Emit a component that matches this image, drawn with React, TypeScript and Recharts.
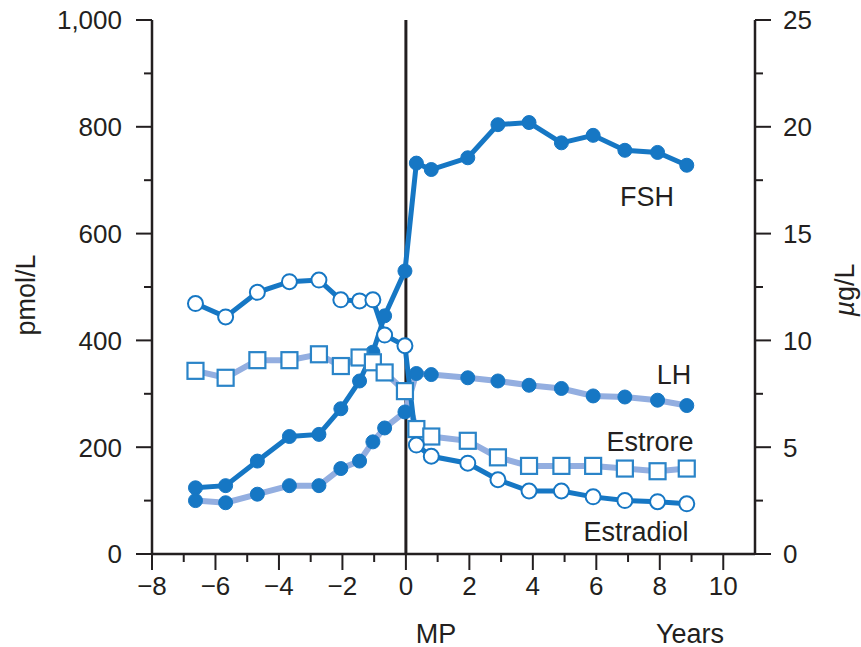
import React from 'react'
import { LineChart, Line, XAxis, YAxis, ReferenceLine } from 'recharts'

// years relative to the menopause (MP)
const years = [
  -6.63, -5.68, -4.68, -3.67, -2.74, -2.05, -1.46, -1.04, -0.67, -0.03,
  0.33, 0.8, 1.95, 2.9, 3.88, 4.9, 5.9, 6.9, 7.93, 8.85,
]
// µg/L, right axis
const fsh = [
  3.1, 3.2, 4.35, 5.5, 5.6, 6.8, 8.1, 9.45, 11.15, 13.25,
  18.3, 18.0, 18.55, 20.1, 20.2, 19.25, 19.6, 18.9, 18.8, 18.2,
]
const lh = [
  2.5, 2.4, 2.8, 3.2, 3.2, 4.0, 4.35, 5.25, 5.9, 6.65,
  8.45, 8.4, 8.25, 8.1, 7.9, 7.75, 7.4, 7.35, 7.2, 6.95,
]
// pmol/L, left axis
const estrone = [
  343, 330, 363, 363, 374, 352, 368, 359, 340, 305,
  234, 220, 212, 181, 165, 165, 165, 160, 155, 160,
]
const estradiol = [
  469, 444, 490, 510, 513, 476, 474, 476, 410, 390,
  204, 183, 170, 139, 118, 118, 107, 100, 98, 94,
]

const xTicks = [-8, -7, -6, -5, -4, -3, -2, -1, 0, 1, 2, 3, 4, 5, 6, 7, 8, 9, 10]
const leftTicks = [0, 100, 200, 300, 400, 500, 600, 700, 800, 900, 1000]
const rightTicks = [0, 2.5, 5, 7.5, 10, 12.5, 15, 17.5, 20, 22.5, 25]

const data = years.map((year, i) => ({
  year,
  fsh: fsh[i],
  lh: lh[i],
  estrone: estrone[i],
  estradiol: estradiol[i],
}))

const ink = '#231f20'
const blue = '#1677c4'
const light = '#93aee0'
const font = '"Liberation Sans", Arial, Helvetica, sans-serif'

const LeftTick = ({ x, y, payload }: any) => {
  const major = payload.value % 200 === 0
  return (
    <g>
      <line x1={x - (major ? 16 : 8)} x2={x} y1={y} y2={y} stroke={ink} strokeWidth={2} />
      {major && (
        <text x={x - 30} y={y} dy="0.36em" textAnchor="end" fontSize={26} fill={ink} fontFamily={font}>
          {payload.value.toLocaleString('en-US')}
        </text>
      )}
    </g>
  )
}

const RightTick = ({ x, y, payload }: any) => {
  const major = payload.value % 5 === 0
  return (
    <g>
      <line x1={x} x2={x + (major ? 16 : 8)} y1={y} y2={y} stroke={ink} strokeWidth={2} />
      {major && (
        <text x={x + 28} y={y} dy="0.36em" textAnchor="start" fontSize={26} fill={ink} fontFamily={font}>
          {payload.value}
        </text>
      )}
    </g>
  )
}

const BottomTick = ({ x, y, payload }: any) => {
  const major = payload.value % 2 === 0
  const label = payload.value < 0 ? `\u2212${Math.abs(payload.value)}` : `${payload.value}`
  return (
    <g>
      <line x1={x} x2={x} y1={y} y2={y + (major ? 16 : 8)} stroke={ink} strokeWidth={2} />
      {major && (
        <text x={x} y={y + 32} dy="0.36em" textAnchor="middle" fontSize={26} fill={ink} fontFamily={font}>
          {label}
        </text>
      )}
    </g>
  )
}

const SquareDot = (p: any) => (
  <rect
    key={`sq-${p.index}`}
    x={p.cx - 8}
    y={p.cy - 8}
    width={16}
    height={16}
    fill="#fff"
    stroke="#2a84c8"
    strokeWidth={2.2}
  />
)

const note = (text: React.ReactNode, cx: number, cy: number, rotate = 0) => (
  <div
    style={{
      position: 'absolute',
      left: cx,
      top: cy,
      transform: `translate(-50%, -50%) rotate(${rotate}deg)`,
      fontFamily: font,
      fontSize: 27,
      lineHeight: 1,
      color: ink,
      whiteSpace: 'nowrap',
    }}
  >
    {text}
  </div>
)

export default function App() {
  return (
    <div style={{ position: 'absolute', left: 0, top: 0, width: 861, height: 647, background: '#fff' }}>
      <LineChart
        width={861}
        height={647}
        data={data}
        margin={{ top: 20, right: 26, bottom: 33, left: 52 }}
      >
        <XAxis
          type="number"
          dataKey="year"
          domain={[-8, 11]}
          ticks={xTicks}
          interval={0}
          height={60}
          tickSize={0}
          tickMargin={0}
          tickLine={false}
          tick={<BottomTick />}
          axisLine={{ stroke: ink, strokeWidth: 2.5 }}
        />
        <YAxis
          yAxisId="left"
          domain={[0, 1000]}
          ticks={leftTicks}
          interval={0}
          width={100}
          tickSize={0}
          tickMargin={0}
          tickLine={false}
          tick={<LeftTick />}
          axisLine={{ stroke: ink, strokeWidth: 2.5 }}
        />
        <YAxis
          yAxisId="right"
          orientation="right"
          domain={[0, 25]}
          ticks={rightTicks}
          interval={0}
          width={80}
          tickSize={0}
          tickMargin={0}
          tickLine={false}
          tick={<RightTick />}
          axisLine={{ stroke: ink, strokeWidth: 2.5 }}
        />
        <ReferenceLine yAxisId="left" x={0} stroke={ink} strokeWidth={3} />
        <Line
          yAxisId="right"
          dataKey="fsh"
          type="linear"
          stroke={blue}
          strokeWidth={5}
          dot={{ r: 7, fill: blue, stroke: blue, strokeWidth: 1 }}
          activeDot={false}
          isAnimationActive={false}
        />
        <Line
          yAxisId="right"
          dataKey="lh"
          type="linear"
          stroke={light}
          strokeWidth={6}
          dot={{ r: 7, fill: blue, stroke: blue, strokeWidth: 1 }}
          activeDot={false}
          isAnimationActive={false}
        />
        <Line
          yAxisId="left"
          dataKey="estrone"
          type="linear"
          stroke={light}
          strokeWidth={6}
          dot={SquareDot}
          activeDot={false}
          isAnimationActive={false}
        />
        <Line
          yAxisId="left"
          dataKey="estradiol"
          type="linear"
          stroke={blue}
          strokeWidth={5}
          dot={{ r: 7.5, fill: '#fff', stroke: blue, strokeWidth: 2 }}
          activeDot={false}
          isAnimationActive={false}
        />
      </LineChart>
      {note('FSH', 647, 197)}
      {note('LH', 674, 375)}
      {note('Estrore', 650, 442)}
      {note('Estradiol', 636, 532)}
      {note('MP', 436, 634)}
      {note('Years', 690, 634)}
      {note('pmol/L', 26, 295, -90)}
      {note(<><i>µ</i>g/L</>, 845, 290, -90)}
    </div>
  )
}
